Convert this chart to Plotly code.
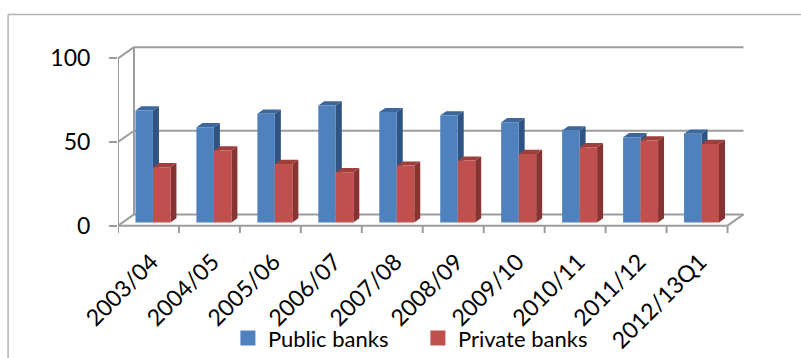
import plotly.graph_objects as go

categories = ["2003/04", "2004/05", "2005/06", "2006/07", "2007/08",
              "2008/09", "2009/10", "2010/11", "2011/12", "2012/13Q1"]
public_banks = [67, 57, 65, 70, 66, 64, 60, 55, 51, 53]
private_banks = [33, 43, 35, 30, 34, 37, 41, 45, 49, 47]
y_ticks = [0, 50, 100]

# ---- geometry (pixel-based layout) ----
W, H = 801, 358
L_PX = 118.0
PX_X = 61.0          # px per category
PX_Y = 1.68          # px per value unit
X0, X1 = -0.5, 10.0
Y0, Y1 = -5.0, 108.0
plot_w = (X1 - X0) * PX_X
plot_h = (Y1 - Y0) * PX_Y
T_PX = 226.0 - Y1 * PX_Y
B_PX = T_PX + plot_h
R_PX = W - L_PX - plot_w

DX = 16.0 / PX_X     # depth vector in data units
DY = 11.3 / PX_Y

def px2paper_x(px):
    return (px - L_PX) / plot_w

def px2paper_y(py):
    return (B_PX - py) / plot_h

GRID = "#9c9c9c"

fig = go.Figure()

# ---- 3D box structure (walls, floor) ----
shapes = []
def seg(x0, y0, x1, y1, color=GRID, w=2):
    shapes.append(dict(type="line", xref="x", yref="y", x0=x0, y0=y0, x1=x1, y1=y1,
                       line=dict(color=color, width=w), layer="below"))

n = len(categories)
xl, xr = -0.5, n - 0.5
for v in y_ticks:
    seg(xl + DX, v + DY, xr + DX, v + DY)          # back wall gridline
    seg(xl, v, xl + DX, v + DY)                     # left diagonal
seg(xl + DX, DY, xl + DX, y_ticks[-1] + DY)         # back-left vertical edge
seg(xl, 0, xl, y_ticks[-1])                         # front vertical axis
seg(xl, 0, xr, 0)                                   # floor front edge
seg(xr, 0, xr + DX, DY)                             # floor right edge
for k in range(n + 1):                              # category boundary ticks
    seg(xl + k, 0, xl + k, -7.5 / PX_Y)

# ---- outer chart border ----
bx = px2paper_x(8)
by_top = px2paper_y(14)
by_bot = px2paper_y(H + 2)
shapes.append(dict(type="line", xref="paper", yref="paper", x0=bx, y0=by_bot, x1=bx, y1=by_top,
                   line=dict(color="#b5b5b5", width=1.5)))
shapes.append(dict(type="line", xref="paper", yref="paper", x0=bx, y0=by_top, x1=px2paper_x(W + 2), y1=by_top,
                   line=dict(color="#b5b5b5", width=1.5)))

# ---- 3D bars ----
BW = 17.5 / PX_X
T_FRONT = 0.28
T_BACK = 0.28 + 0.375

def bar_faces(values, offset):
    fx, fy, sx, sy, tx, ty = [], [], [], [], [], []
    for i, v in enumerate(values):
        a = i + offset + T_FRONT * DX
        b = a + BW
        base = T_FRONT * DY
        top = v + base
        ddx = (T_BACK - T_FRONT) * DX
        ddy = (T_BACK - T_FRONT) * DY
        fx += [a, b, b, a, a, None]
        fy += [base, base, top, top, base, None]
        sx += [b, b + ddx, b + ddx, b, b, None]
        sy += [base, base + ddy, top + ddy, top, base, None]
        tx += [a, b, b + ddx, a + ddx, a, None]
        ty += [top, top, top + ddy, top + ddy, top, None]
    return (fx, fy), (sx, sy), (tx, ty)

series = [
    ("Public banks", public_banks, -BW, "#4F81BD", "#2F5382", "#3C679C"),
    ("Private banks", private_banks, 0.0, "#C0504D", "#873331", "#9E3F3C"),
]
for name, vals, off, cf, cs, ct in series:
    front, side, top = bar_faces(vals, off)
    for (xx, yy), col in ((side, cs), (top, ct), (front, cf)):
        fig.add_trace(go.Scatter(x=xx, y=yy, mode="lines", fill="toself", fillcolor=col,
                                 line=dict(width=0, color=col), showlegend=False,
                                 hoverinfo="skip"))

# legend entries
for name, vals, off, cf, cs, ct in series:
    fig.add_trace(go.Scatter(x=[None], y=[None], mode="markers", name=name,
                             marker=dict(symbol="square", size=15, color=cf)))

FONT = "Lato, 'Open Sans', sans-serif"
fig.update_layout(
    width=W, height=H,
    margin=dict(l=L_PX, r=R_PX, t=T_PX, b=H - B_PX, pad=0, autoexpand=False),
    paper_bgcolor="white", plot_bgcolor="white",
    shapes=shapes,
    font=dict(family=FONT, color="black"),
    showlegend=True,
    legend=dict(orientation="h", x=px2paper_x(228), xanchor="left",
                y=px2paper_y(339), yanchor="middle", font=dict(size=22, family=FONT),
                itemsizing="trace", bgcolor="rgba(0,0,0,0)", tracegroupgap=0,
                entrywidth=145),
    xaxis=dict(range=[X0, X1], tickmode="array",
               tickvals=[i + 0.05 for i in range(n)], ticktext=categories,
               tickangle=-45, ticks="", showgrid=False, zeroline=False, showline=False,
               tickfont=dict(size=23, family=FONT), fixedrange=True, automargin=False,
               ticklabelstandoff=9),
    yaxis=dict(range=[Y0, Y1], tickmode="array", tickvals=y_ticks, ticks="outside",
               ticklen=8, tickwidth=2, tickcolor=GRID, showgrid=False, zeroline=False,
               showline=False, tickfont=dict(size=23, family=FONT), ticklabelstandoff=14,
               fixedrange=True, automargin=False),
)

fig.write_html("out.html")
